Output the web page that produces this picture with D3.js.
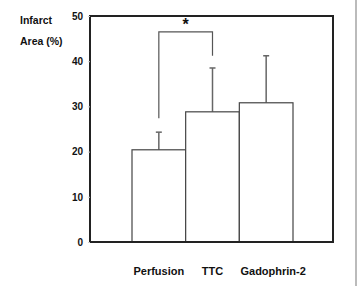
<!DOCTYPE html>
<html>
<head>
<meta charset="utf-8">
<title>Infarct area</title>
<script src="https://d3js.org/d3.v7.min.js"></script>
<style>
body { margin: 0; background: white; }
text { font-family: "Liberation Sans", Arial, sans-serif; font-weight: bold; fill: #111; }
</style>
</head>
<body>
<script>
var categories = ["Perfusion", "TTC", "Gadophrin-2"],
    means = [20.4, 28.8, 30.8],
    upperErr = [24.3, 38.5, 41.2],
    yTicks = [0, 10, 20, 30, 40, 50],
    bracket = {from: 0, to: 1, top: 46.5, leftEnd: 27.4, rightEnd: 41.2};

var w = 358, h = 286,
    plotL = 90, plotR = 333, plotT = 16, plotB = 242;

var svg = d3.select("body").append("svg")
    .attr("width", w).attr("height", h);

var y = d3.scaleLinear().domain([0, 50]).range([plotB, plotT]);
var x = d3.scaleBand().domain(categories).range([132, 293]).paddingInner(0);

// page edge
svg.append("line").attr("x1", 356).attr("x2", 356).attr("y1", 0).attr("y2", h)
   .attr("stroke", "#bbb").attr("stroke-width", 2);

// error bars first, so bars cover the lower part
var errs = svg.selectAll(".err").data(categories).enter().append("g");
errs.append("line")
   .attr("x1", function(d){ return x(d) + x.bandwidth()/2; })
   .attr("x2", function(d){ return x(d) + x.bandwidth()/2; })
   .attr("y1", function(d, i){ return y(means[i]); })
   .attr("y2", function(d, i){ return y(upperErr[i]); })
   .attr("stroke", "#666").attr("stroke-width", 1.5);
errs.append("line")
   .attr("x1", function(d){ return x(d) + x.bandwidth()/2 - 3; })
   .attr("x2", function(d){ return x(d) + x.bandwidth()/2 + 3; })
   .attr("y1", function(d, i){ return y(upperErr[i]); })
   .attr("y2", function(d, i){ return y(upperErr[i]); })
   .attr("stroke", "#666").attr("stroke-width", 1.5);

svg.selectAll(".bar").data(categories).enter().append("rect")
   .attr("x", function(d){ return x(d); })
   .attr("width", x.bandwidth())
   .attr("y", function(d, i){ return y(means[i]); })
   .attr("height", function(d, i){ return plotB - y(means[i]); })
   .attr("fill", "white").attr("stroke", "#444").attr("stroke-width", 1.2);

// frame
svg.append("rect").attr("x", plotL).attr("y", plotT)
   .attr("width", plotR - plotL).attr("height", plotB - plotT)
   .attr("fill", "none").attr("stroke", "#222").attr("stroke-width", 2);

// y axis ticks
var yAxis = d3.axisLeft(y).tickValues(yTicks).tickSize(2).tickPadding(5);
var ga = svg.append("g").attr("transform", "translate(" + plotL + ",0)").call(yAxis);
ga.select(".domain").remove();
ga.selectAll("line").attr("stroke", "#ccc");
ga.selectAll("text").style("font-size", "10px").style("font-family", "Liberation Sans, Arial, sans-serif")
  .style("font-weight", "bold").attr("fill", "#111");

// x labels
svg.selectAll(".xl").data(categories).enter().append("text")
   .attr("x", function(d){ return x(d) + x.bandwidth()/2 + (d == "Gadophrin-2" ? 7 : 0); })
   .attr("y", 275)
   .attr("text-anchor", "middle")
   .style("font-size", "11px")
   .text(function(d){ return d; });

// y title
svg.append("text").attr("x", 20).attr("y", 24).style("font-size", "10.5px").text("Infarct");
svg.append("text").attr("x", 20).attr("y", 45).style("font-size", "10.5px").text("Area (%)");

// significance bracket
var bx1 = x(categories[bracket.from]) + x.bandwidth()/2,
    bx2 = x(categories[bracket.to]) + x.bandwidth()/2;
svg.append("path")
   .attr("d", "M" + bx1 + "," + y(bracket.leftEnd) + "V" + y(bracket.top) + "H" + bx2 + "V" + y(bracket.rightEnd))
   .attr("fill", "none").attr("stroke", "#555").attr("stroke-width", 1.2);
svg.append("text").attr("x", (bx1 + bx2)/2).attr("y", 30)
   .attr("text-anchor", "middle").style("font-size", "16px").text("*");
</script>
</body>
</html>
